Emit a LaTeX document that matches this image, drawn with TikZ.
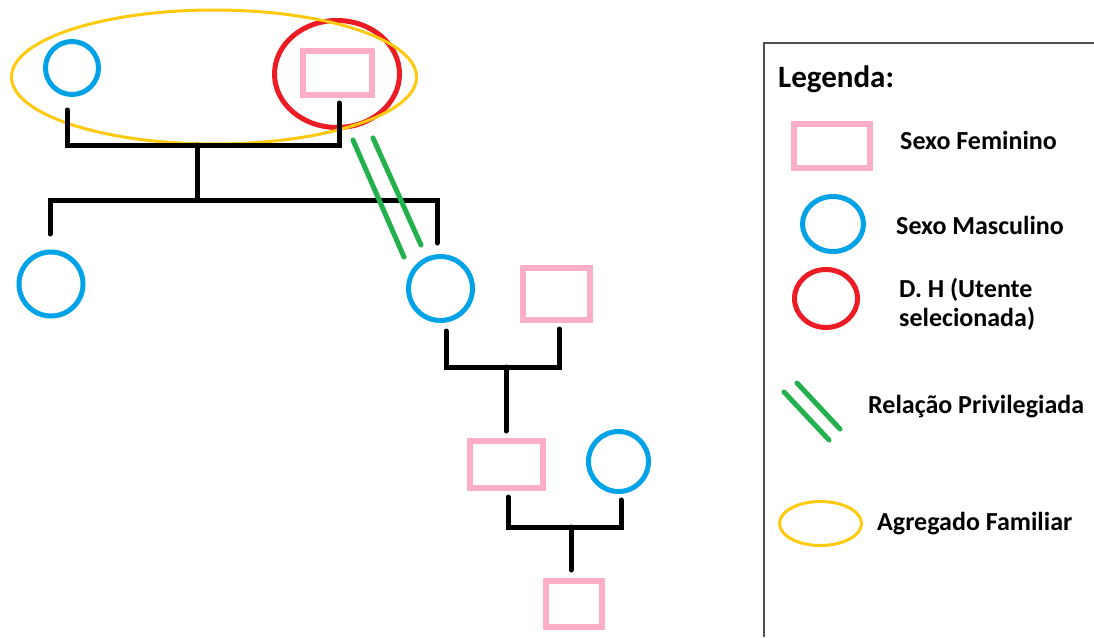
\documentclass[tikz,border=0pt]{standalone}
\usepackage{fontspec}
\setmainfont{Carlito}
\usetikzlibrary{shapes.geometric,calc}
\definecolor{maleblue}{HTML}{00A2E8}
\definecolor{femalepink}{HTML}{FFAEC9}
\definecolor{patientred}{HTML}{ED1C24}
\definecolor{householdyellow}{HTML}{FFC90E}
\definecolor{bondgreen}{HTML}{22B14C}
\definecolor{framegray}{HTML}{505050}
\tikzset{
  male/.style={circle,draw=maleblue,line width=5pt,inner sep=0pt,minimum size=#1},
  female/.style={rectangle,draw=femalepink,line width=6pt,inner sep=0pt},
  patient/.style={ellipse,draw=patientred,line width=5pt,inner sep=0pt},
  household/.style={ellipse,draw=householdyellow,line width=3pt,inner sep=0pt},
  kin/.style={draw=black,line width=5pt,line cap=round,line join=miter},
  bond/.style={draw=bondgreen,line width=5pt,line cap=round},
  frameline/.style={draw=framegray,line width=1.6pt},
  legtext/.style={anchor=base west,inner sep=0pt,font=\bfseries\fontsize{26}{31}\selectfont},
}
\begin{document}
\begin{tikzpicture}[x=1pt,y=-1pt]
\useasboundingbox[fill=white] (0,0) rectangle (1094,637);

% first generation: patient mark, household and couple
\node[patient,minimum width=125pt,minimum height=107pt] (dh) at (337,74) {};
\node[household,minimum width=405pt,minimum height=134pt] (hh) at (214,77) {};
\node[male=53pt] (gf) at (72,68) {};
\node[female,minimum width=69pt,minimum height=44pt] (gm) at (337.5,73) {};

% second generation
\node[male=64pt] (u1) at (51,284) {};
\node[male=64pt] (u2) at (440.5,288.5) {};
\node[female,minimum width=67pt,minimum height=52pt] (w1) at (556.5,294) {};

% third generation
\node[female,minimum width=73pt,minimum height=47pt] (d1) at (506.5,464.5) {};
\node[male=60pt] (h1) at (618.5,461.5) {};

% fourth generation
\node[female,minimum width=56pt,minimum height=46pt] (c1) at (574,604) {};

% family junctions
\coordinate (m1) at (197,145);
\coordinate (s1) at (197,200);
\coordinate (m2) at (506,367);
\coordinate (m3) at (571,527);

% kinship lines
\draw[kin] ([xshift=-5pt,yshift=-13pt]gf.south) |- (m1) -| ([xshift=1.5pt,yshift=-5pt]gm.south);
\draw[kin] (m1) -- (s1);
\draw[kin] ([xshift=-1pt,yshift=15.5pt]u1.north) |- (s1) -| ([xshift=-3.5pt,yshift=11pt]u2.north);
\draw[kin] ([xshift=5.5pt,yshift=-8pt]u2.south) |- (m2) -| ([xshift=2.5pt,yshift=-6pt]w1.south);
\draw[kin] (m2) -- ([xshift=-0.5pt,yshift=7pt]d1.north);
\draw[kin] ([xshift=1.5pt,yshift=-6pt]d1.south) |- (m3) -| ([xshift=2.5pt,yshift=-6pt]h1.south);
\draw[kin] (m3) -- ([xshift=-3pt,yshift=8pt]c1.north);

% privileged relation between the patient and her son
\coordinate (b1s) at (353,140);
\coordinate (b1e) at (404,257);
\coordinate (b2s) at (373,138);
\coordinate (b2e) at (421,245);
\draw[bond] (b1s) -- (b1e);
\draw[bond] (b2s) -- (b2e);

% legend frame
\coordinate (fb) at (764,637);
\coordinate (fr) at (1094,43);
\draw[frameline] (fb) |- (fr);

\node[anchor=base west,inner sep=0pt,font=\bfseries\fontsize{31}{37}\selectfont] (lt) at (778,87) {Legenda:};

\node[female,minimum width=76pt,minimum height=44pt] (lf) at (832,146) {};
\node[legtext] (lft) at (900,149) {Sexo Feminino};

\node[ellipse,draw=maleblue,line width=5pt,inner sep=0pt,minimum width=61pt,minimum height=55pt] (lm) at (833,224) {};
\node[legtext] (lmt) at (896,234) {Sexo Masculino};

\node[patient,minimum width=63pt,minimum height=58pt] (ld) at (826,298.5) {};
\node[legtext] (ldt1) at (899,297) {D. H (Utente};
\node[legtext] (ldt2) at (899,326) {selecionada)};

\coordinate (lb1s) at (784,392);
\coordinate (lb1e) at (829,440);
\coordinate (lb2s) at (797,383);
\coordinate (lb2e) at (840,429);
\draw[bond] (lb1s) -- (lb1e);
\draw[bond] (lb2s) -- (lb2e);
\node[legtext] (lbt) at (868,413) {Relação Privilegiada};

\node[household,minimum width=82pt,minimum height=44pt] (lh) at (820.5,523.5) {};
\node[legtext] (lht) at (877,530) {Agregado Familiar};
\end{tikzpicture}
\end{document}
